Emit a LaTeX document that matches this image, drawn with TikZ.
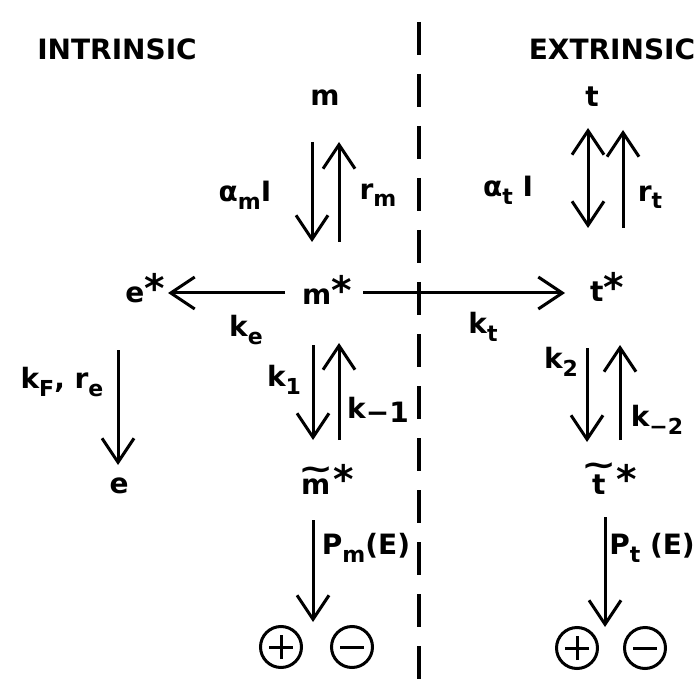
\documentclass[tikz,border=0pt]{standalone}
\usepackage{fontspec}
\setmainfont{DejaVu Sans}
\usetikzlibrary{arrows.meta}
\newcommand{\lsub}[1]{\raisebox{-0.5ex}{\fontsize{22}{24}\selectfont #1}}
\newcommand{\st}{\raisebox{0.02em}{\scalebox{1.4}{*}}}
\newcommand{\tildeover}[1]{\leavevmode\vbox{\offinterlineskip\halign{\hfil##\hfil\cr\scalebox{1.5}[1.1]{\textasciitilde}\cr\noalign{\kern-1pt}#1\cr}}}
\begin{document}
\begin{tikzpicture}[x=1pt,y=-1pt,
  lbl/.style={font=\fontsize{28}{32}\selectfont\bfseries, inner sep=0pt},
  arr/.style={line width=3pt, -{Straight Barb[length=24pt,width=32pt,line width=3pt]}},
  darr/.style={line width=3pt, {Straight Barb[length=24pt,width=32pt,line width=3pt]}-{Straight Barb[length=24pt,width=32pt,line width=3pt]}},
  divider/.style={line width=3.5pt, dash pattern=on 33pt off 19pt},
  charge/.style={circle, draw, line width=3pt, minimum size=41pt, inner sep=0pt},
  plus/.style={charge, path picture={\draw[line width=3pt] ([xshift=-12pt]path picture bounding box.center) -- ([xshift=12pt]path picture bounding box.center); \draw[line width=3pt] ([yshift=-12pt]path picture bounding box.center) -- ([yshift=12pt]path picture bounding box.center);}},
  minus/.style={charge, path picture={\draw[line width=3pt] ([xshift=-12pt]path picture bounding box.center) -- ([xshift=12pt]path picture bounding box.center);}}
]
\useasboundingbox (0,0) rectangle (698,684);
\fill[white] (0,0) rectangle (698,684);

% divider
\coordinate (dtop) at (419,22);
\coordinate (dbot) at (419,684);
\draw[divider] (dtop) -- (dbot);

% headings
\node[lbl] (intr) at (117,49) {INTRINSIC};
\node[lbl] (extr) at (612,49) {EXTRINSIC};

% species
\node[lbl] (m)  at (325,98) {m};
\node[lbl] (t)  at (592,97) {t};
\node[lbl] (ms) at (327,290) {m\st};
\node[lbl] (es) at (145,288) {e\st};
\node[lbl] (ts) at (607,287) {t\st};
\node[lbl] (e)  at (119,486) {e};
\node[lbl,anchor=base] (mt) at (326,494) {\tildeover{m}\st};
\node[lbl,anchor=base] (tt) at (609,494) {\tildeover{t}\st};
\node[plus]  (p1) at (281,647) {};
\node[minus] (n1) at (352,647) {};
\node[plus]  (p2) at (577,648) {};
\node[minus] (n2) at (645,648) {};

% rate labels
\node[lbl] (lam) at (245,195) {α\lsub{m}I};
\node[lbl] (lrm) at (378,195) {r\lsub{m}};
\node[lbl] (lat) at (508,190) {α\lsub{t} I};
\node[lbl] (lrt) at (650,197) {r\lsub{t}};
\node[lbl] (lke) at (246,330) {k\lsub{e}};
\node[lbl] (lkt) at (483,327) {k\lsub{t}};
\node[lbl] (lk1) at (284,380) {k\lsub{1}};
\node[lbl] (lkm1) at (378,410) {k\raisebox{-0.3ex}{−1}};
\node[lbl] (lk2) at (561,362) {k\lsub{2}};
\node[lbl] (lkm2) at (657,420) {k\lsub{−2}};
\node[lbl] (lkf) at (62,382) {k\lsub{F}, r\lsub{e}};
\node[lbl] (lpm) at (366,548) {P\lsub{m}(E)};
\node[lbl] (lpt) at (652,548) {P\lsub{t} (E)};

% connectors
\draw[arr] ([shift={(-13,44)}]m.center) -- ([shift={(-15,-48)}]ms.center);
\draw[arr] ([shift={(12,-48)}]ms.center) -- ([shift={(14,44)}]m.center);
\draw[darr] ([shift={(-4,31)}]t.center) -- ([shift={(-19,-59)}]ts.center);
\draw[arr] ([shift={(16,-59)}]ts.center) -- ([shift={(31,33)}]t.center);
\draw[arr] ([shift={(-42,3)}]ms.center) -- ([shift={(23,5)}]es.center);
\draw[arr] ([shift={(36,3)}]ms.center) -- ([shift={(-42,6)}]ts.center);
\draw[arr] ([shift={(-14,55)}]ms.center) -- ([shift={(-13,-54)}]mt.base);
\draw[arr] ([shift={(13,-54)}]mt.base) -- ([shift={(12,53)}]ms.center);
\draw[arr] ([shift={(-20,61)}]ts.center) -- ([shift={(-22,-52)}]tt.base);
\draw[arr] ([shift={(11,-54)}]tt.base) -- ([shift={(13,58)}]ts.center);
\draw[arr] ([shift={(-27,62)}]es.center) -- ([shift={(-1,-21)}]e.center);
\draw[arr] ([shift={(-13,26)}]mt.base) -- ([shift={(32,-25)}]p1.center);
\draw[arr] ([shift={(-4,23)}]tt.base) -- ([shift={(28,-21)}]p2.center);
\end{tikzpicture}
\end{document}
